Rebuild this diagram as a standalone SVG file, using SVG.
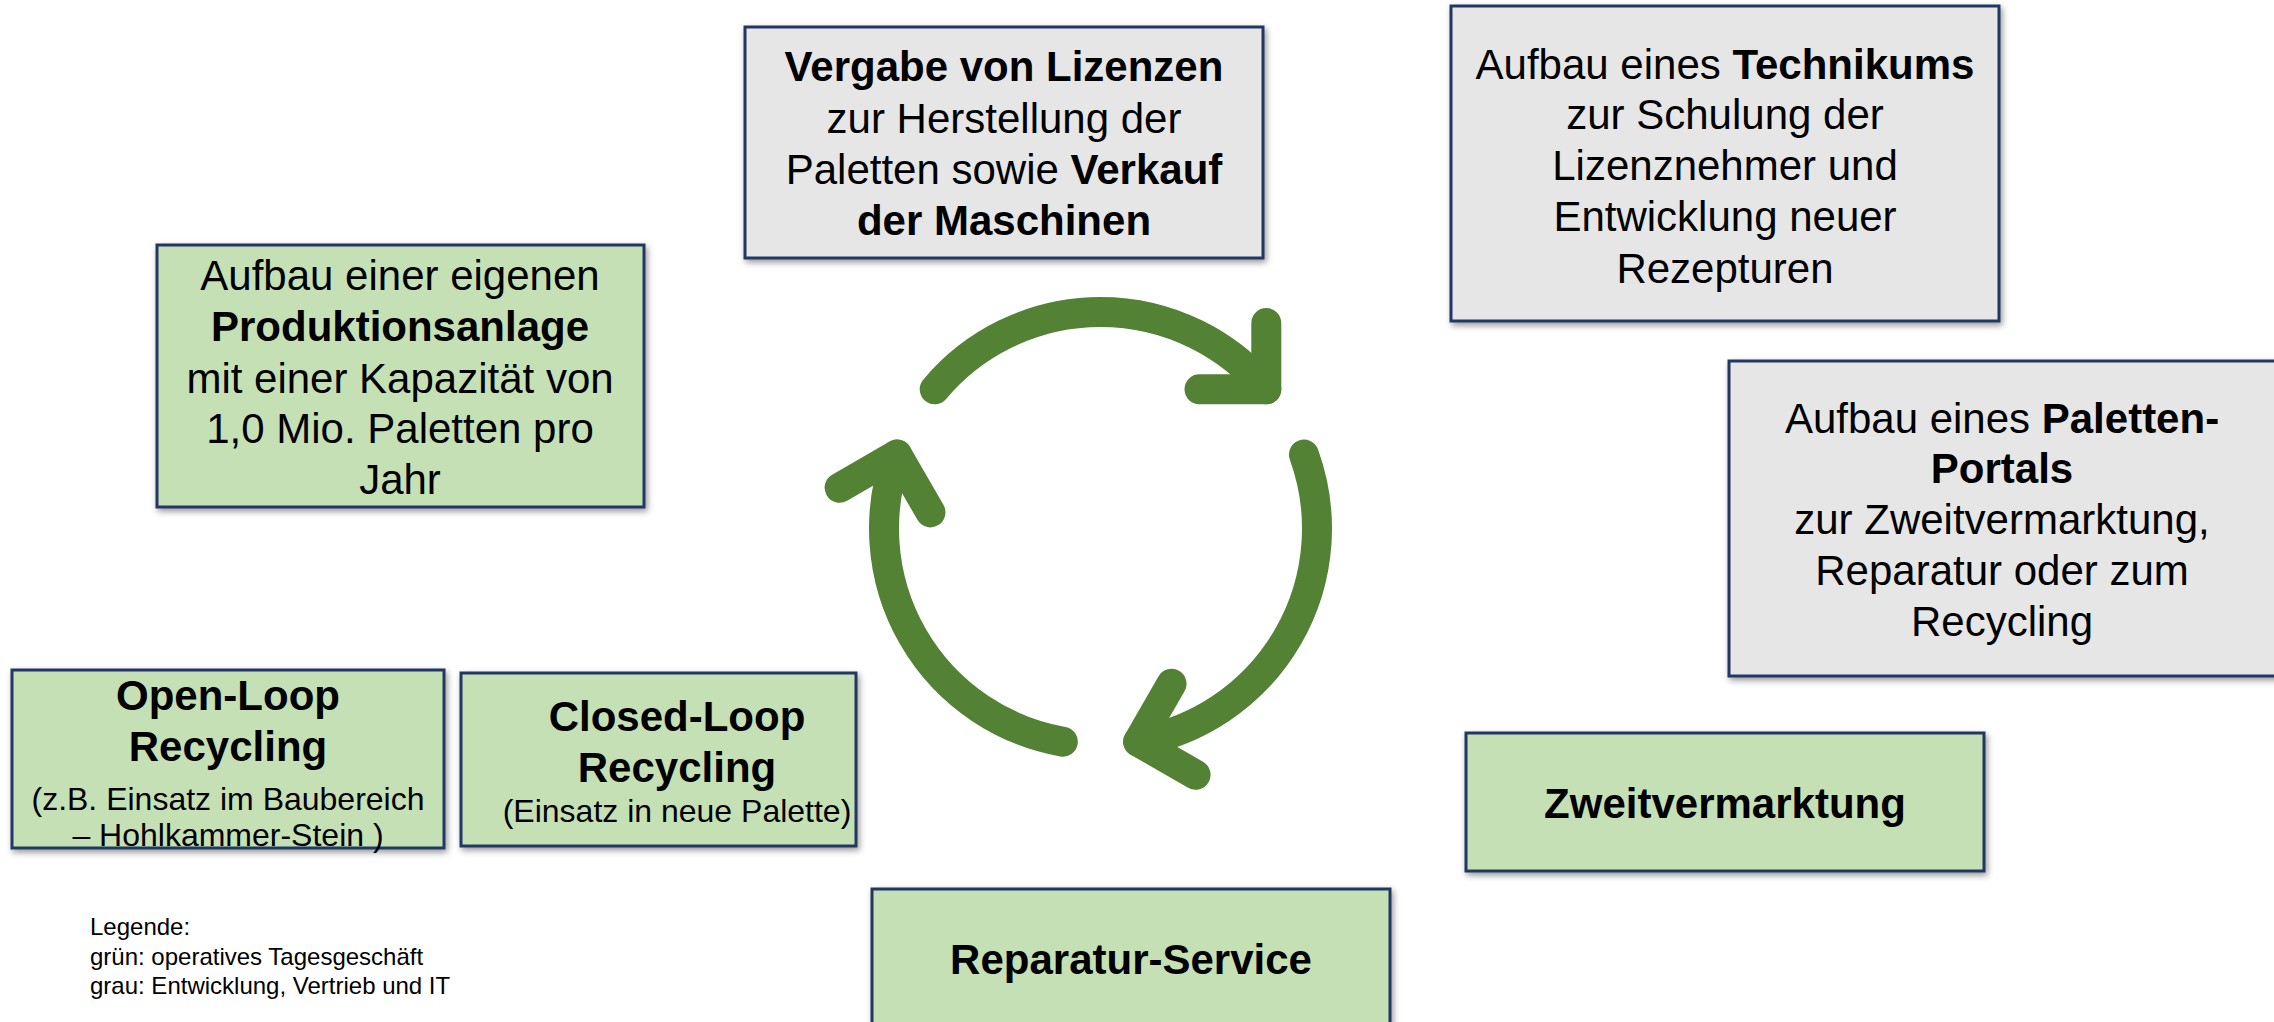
<svg xmlns="http://www.w3.org/2000/svg" width="2274" height="1022" viewBox="0 0 2274 1022">
<defs>
<filter id="sh" x="-10%" y="-10%" width="120%" height="130%">
<feDropShadow dx="2" dy="3" stdDeviation="3" flood-color="#000" flood-opacity="0.4"/>
</filter>
<g id="arr">
<path d="M934.7,389.3 A216.5,216.5 0 0 1 1266.3,389.3" class="cyc"/>
<polyline points="1266.3,323 1266.3,389.3 1199.5,389.3" class="cyc"/>
</g>
</defs>
<style>
.box{stroke:#203864;stroke-width:3;filter:url(#sh)}
.gr{fill:#e6e6e6}
.gn{fill:#c5e0b4}
text{font-family:"Liberation Sans",Arial,sans-serif;fill:#000;text-anchor:middle}
.t{font-size:42px}
.s{font-size:32px}
.b{font-weight:bold}
.leg{font-size:24px;text-anchor:start}
.cyc{fill:none;stroke:#548235;stroke-width:30;stroke-linecap:round;stroke-linejoin:round}
</style>
<rect width="2274" height="1022" fill="#fff"/>

<g id="connectors">
<use href="#arr"/>
<use href="#arr" transform="rotate(120 1100.5 528.5)"/>
<use href="#arr" transform="rotate(240 1100.5 528.5)"/>
</g>

<g id="lizenzen">
<rect class="box gr" x="745" y="27" width="518" height="231"/>
<text class="t" x="1004" y="81"><tspan class="b">Vergabe von Lizenzen</tspan></text>
<text class="t" x="1004" y="133">zur Herstellung der</text>
<text class="t" x="1004" y="184">Paletten sowie <tspan class="b">Verkauf</tspan></text>
<text class="t b" x="1004" y="235">der Maschinen</text>
</g>

<g id="technikum">
<rect class="box gr" x="1451" y="6" width="548" height="315"/>
<text class="t" x="1725" y="79">Aufbau eines <tspan class="b">Technikums</tspan></text>
<text class="t" x="1725" y="129">zur Schulung der</text>
<text class="t" x="1725" y="180">Lizenznehmer und</text>
<text class="t" x="1725" y="231">Entwicklung neuer</text>
<text class="t" x="1725" y="283">Rezepturen</text>
</g>

<g id="produktion">
<rect class="box gn" x="157" y="245" width="487" height="262"/>
<text class="t" x="400" y="290">Aufbau einer eigenen</text>
<text class="t b" x="400" y="341">Produktionsanlage</text>
<text class="t" x="400" y="393">mit einer Kapazität von</text>
<text class="t" x="400" y="443">1,0 Mio. Paletten pro</text>
<text class="t" x="400" y="494">Jahr</text>
</g>

<g id="portal">
<rect class="box gr" x="1729" y="361" width="560" height="315"/>
<text class="t" x="2002" y="433">Aufbau eines <tspan class="b">Paletten-</tspan></text>
<text class="t b" x="2002" y="483">Portals</text>
<text class="t" x="2002" y="534">zur Zweitvermarktung,</text>
<text class="t" x="2002" y="585">Reparatur oder zum</text>
<text class="t" x="2002" y="636">Recycling</text>
</g>

<g id="openloop">
<rect class="box gn" x="12" y="670" width="432" height="178"/>
<text class="t b" x="228" y="710">Open-Loop</text>
<text class="t b" x="228" y="761">Recycling</text>
<text class="s" x="228" y="810">(z.B. Einsatz im Baubereich</text>
<text class="s" x="228" y="846">– Hohlkammer-Stein )</text>
</g>

<g id="closedloop">
<rect class="box gn" x="461" y="673" width="395" height="173"/>
<text class="t b" x="677" y="731">Closed-Loop</text>
<text class="t b" x="677" y="782">Recycling</text>
<text class="s" x="677" y="822">(Einsatz in neue Palette)</text>
</g>

<g id="zweitvermarktung">
<rect class="box gn" x="1466" y="733" width="518" height="138"/>
<text class="t b" x="1725" y="818">Zweitvermarktung</text>
</g>

<g id="reparatur">
<rect class="box gn" x="872" y="889" width="518" height="150"/>
<text class="t b" x="1131" y="974">Reparatur-Service</text>
</g>

<g id="legende">
<text class="leg" x="90" y="935">Legende:</text>
<text class="leg" x="90" y="965">grün: operatives Tagesgeschäft</text>
<text class="leg" x="90" y="994">grau: Entwicklung, Vertrieb und IT</text>
</g>
</svg>
